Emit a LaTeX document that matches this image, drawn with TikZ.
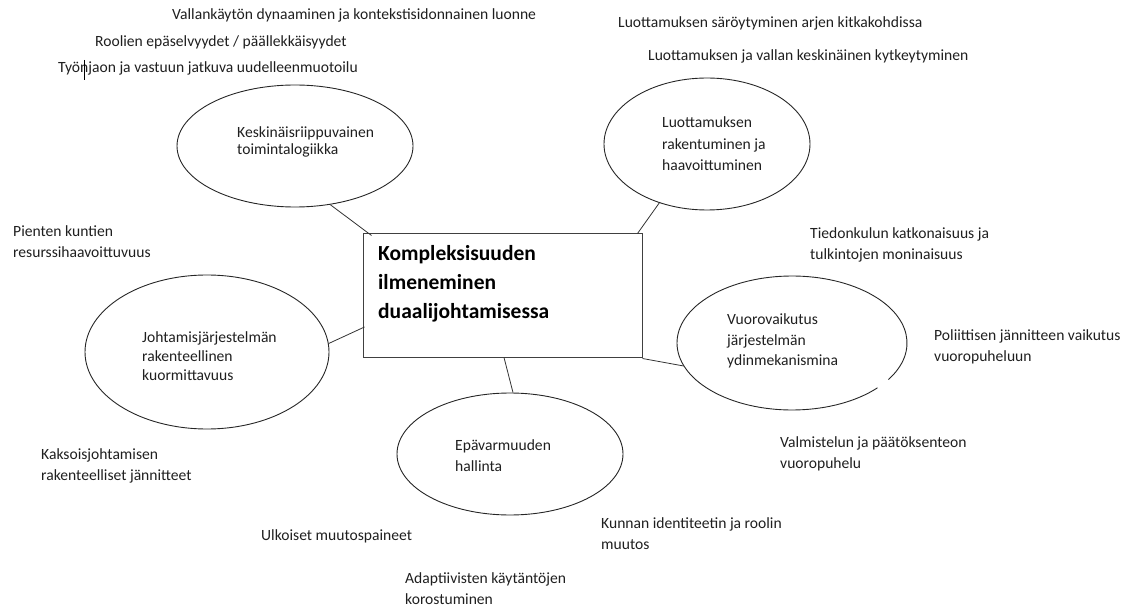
\documentclass[tikz,border=0pt]{standalone}
\usepackage{fontspec}
\setmainfont{Carlito}
\usetikzlibrary{shapes.geometric}
\begin{document}
\begin{tikzpicture}[x=1pt,y=-1pt,
  % multi-line labels are placed by the baseline of their last line
  lbl/.style={anchor=base west, inner sep=0pt, align=left,
              font=\fontsize{15.6}{21}\selectfont, text=black!88},
  oval/.style={ellipse, draw=black!85, line width=0.9pt, inner sep=0pt},
  hub/.style={rectangle, draw=black!75, line width=1pt, inner sep=0pt},
  conn/.style={draw=black!80, line width=0.8pt}]
\useasboundingbox (0,0) rectangle (1130,612);

% central concept
\node[hub, minimum width=279pt, minimum height=123pt] (c) at (502.5,295.5) {};
\node[lbl, font=\fontsize{21.5}{29}\selectfont\bfseries, text=black] (ct) at (378,319)
  {Kompleksisuuden\\ilmeneminen\\duaalijohtamisessa};

% theme ovals
\node[oval, minimum width=236pt, minimum height=122pt] (e1) at (295,146) {};
\node[oval, minimum width=206pt, minimum height=132pt] (e2) at (707,144) {};
\node[oval, minimum width=244pt, minimum height=154pt] (e3) at (207,352) {};
\node[oval, minimum width=226pt, minimum height=122pt] (e4) at (510,454) {};
\node[ellipse, inner sep=0pt, minimum width=230pt, minimum height=134pt] (e5) at (792,343) {};
\draw[draw=black!85, line width=0.9pt]
  ([shift={(42:115 and 67)}]e5.center) arc[start angle=42, end angle=393, x radius=115, y radius=67];

% oval captions
\node[lbl, font=\fontsize{15.6}{17}\selectfont] (t1) at (237,155) {Keskinäisriippuvainen\\toimintalogiikka};
\node[lbl, font=\fontsize{15.6}{21.5}\selectfont] (t2) at (662,171) {Luottamuksen\\rakentuminen ja\\haavoittuminen};
\node[lbl, font=\fontsize{15.6}{19.5}\selectfont] (t3) at (142,381) {Johtamisjärjestelmän\\rakenteellinen\\kuormittavuus};
\node[lbl] (t4) at (455,471) {Epävarmuuden\\hallinta};
\node[lbl, font=\fontsize{15.6}{20}\selectfont] (t5) at (727,365) {Vuorovaikutus\\järjestelmän\\ydinmekanismina};

% connectors from the ovals to the central concept
\draw[conn] (e1.-59) -- ([xshift=9pt,yshift=-2pt]c.north west);
\draw[conn] (e2.-129) -- ([xshift=-5pt]c.north east);
\draw[conn] (e3.4) -- ([xshift=2pt,yshift=-31.5pt]c.west);
\draw[conn] ([xshift=1.5pt]c.south) -- ([xshift=3pt]e4.north);
\draw[conn] ([yshift=-1pt]c.south east) -- (e5.-168);

% surrounding notes
\node[lbl] (n1) at (172,20) {Vallankäytön dynaaminen ja kontekstisidonnainen luonne};
\node[lbl] (n2) at (95,47) {Roolien epäselvyydet / päällekkäisyydet};
\node[lbl] (n3) at (58,73) {Työnjaon ja vastuun jatkuva uudelleenmuotoilu};
\coordinate (k1) at (84.5,60);
\coordinate (k2) at (84.5,80);
\draw[black, line width=0.9pt] (k1) -- (k2);
\node[lbl] (n4) at (618,28) {Luottamuksen säröytyminen arjen kitkakohdissa};
\node[lbl] (n5) at (648,61) {Luottamuksen ja vallan keskinäinen kytkeytyminen};
\node[lbl] (n6) at (13,258) {Pienten kuntien\\resurssihaavoittuvuus};
\node[lbl] (n7) at (810,260) {Tiedonkulun katkonaisuus ja\\tulkintojen moninaisuus};
\node[lbl] (n8) at (934,362) {Poliittisen jännitteen vaikutus\\vuoropuheluun};
\node[lbl] (n9) at (41,480) {Kaksoisjohtamisen\\rakenteelliset jännitteet};
\node[lbl] (n10) at (780,468) {Valmistelun ja päätöksenteon\\vuoropuhelu};
\node[lbl] (n11) at (601,549) {Kunnan identiteetin ja roolin\\muutos};
\node[lbl] (n12) at (261,540) {Ulkoiset muutospaineet};
\node[lbl] (n13) at (405,604) {Adaptiivisten käytäntöjen\\korostuminen};
\end{tikzpicture}
\end{document}
